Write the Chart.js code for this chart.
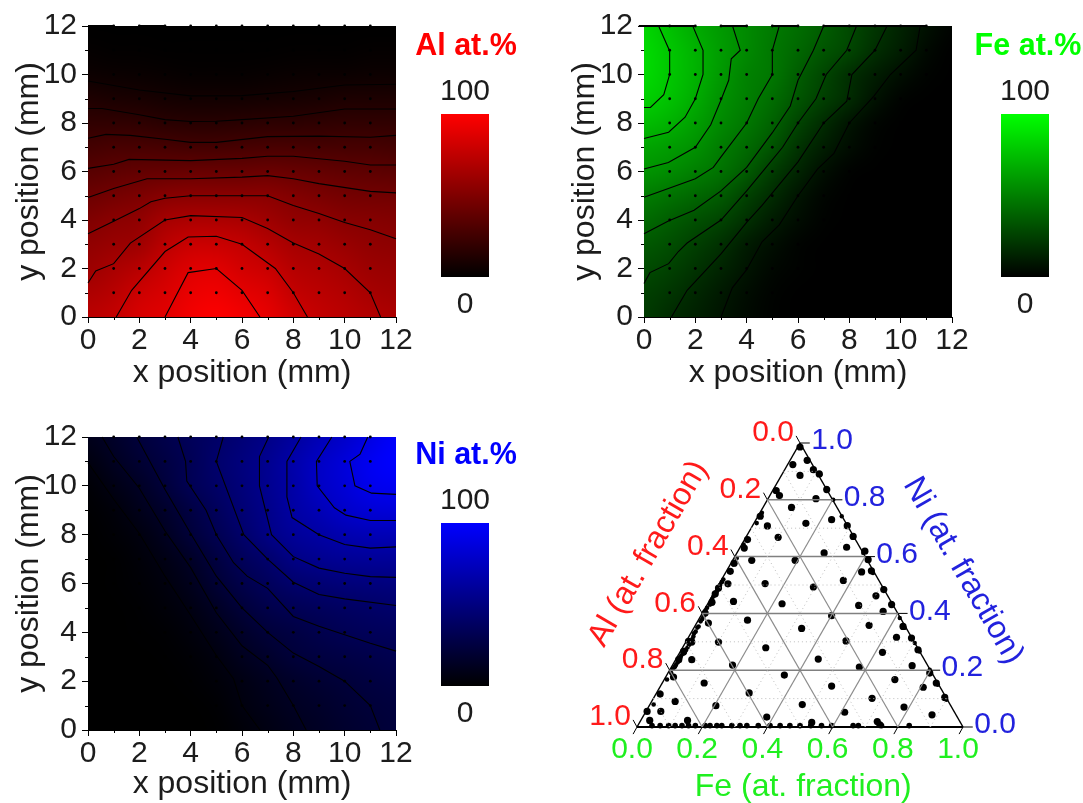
<!DOCTYPE html>
<html>
<head>
<meta charset="utf-8">
<script src="https://cdn.jsdelivr.net/npm/chart.js@4"></script>
<style>
  html, body { margin: 0; padding: 0; background: #fff; }
  #page { position: relative; width: 1083px; height: 803px; overflow: hidden; }
  canvas { position: absolute; }
</style>
</head>
<body>
<div id="page">
  <canvas id="mapAl" width="440" height="400" style="left:0;top:0"></canvas>
  <canvas id="barAl" width="125" height="330" style="left:403px;top:0"></canvas>
  <canvas id="mapFe" width="440" height="400" style="left:556px;top:0"></canvas>
  <canvas id="barFe" width="125" height="330" style="left:963px;top:0"></canvas>
  <canvas id="mapNi" width="440" height="400" style="left:0;top:405px"></canvas>
  <canvas id="barNi" width="125" height="330" style="left:403px;top:409px"></canvas>
  <canvas id="ternary" width="513" height="393" style="left:570px;top:410px"></canvas>
</div>
<script>
//---------------- DATA ----------------

const FONT_NAME = "'Liberation Sans', Arial, sans-serif";

// sample positions on the wafer (mm)
const sampleX = [1, 2, 3, 4, 5, 6, 7, 8, 9, 10, 11];
const sampleY = [1, 2, 3, 4, 5, 6, 7, 8, 9, 10, 11, 12];
const minorTicks = [1, 3, 5, 7, 9, 11];

// composition maps, one row per y = 0..12, one column per x = 0..12
const alGrid = [
  [77, 80, 87, 90, 96, 99, 96, 92, 85, 80, 77, 74, 72],
  [72, 76, 83, 87, 93, 95, 91, 88, 80, 77, 74, 70, 68],
  [66, 71, 76, 83, 89, 90, 85, 82, 75, 73, 70, 66, 65],
  [62, 65, 67, 77, 82, 82, 80, 75, 70, 68, 65, 62, 61],
  [56, 60, 62, 70, 72, 72, 71, 67, 63, 62, 59, 58, 57],
  [49, 52, 55, 59, 60, 60, 60, 60, 57, 54, 52, 51, 51],
  [41, 43, 45, 46, 47, 47, 47, 48, 47, 46, 44, 43, 42],
  [33, 35, 35, 34, 33, 33, 34, 35, 35, 34, 34, 34, 33],
  [25, 25, 24, 22, 21, 21, 22, 23, 23, 24, 25, 25, 25],
  [17, 15, 14, 12, 11, 11, 11, 12, 13, 14, 16, 16, 16],
  [8, 7, 6, 5, 4, 4, 4, 5, 6, 7, 7, 8, 8],
  [3, 2, 2, 1, 1, 1, 1, 1, 2, 2, 2, 3, 3],
  [0, 0, 0, 0, 0, 0, 0, 0, 0, 0, 0, 0, 0]
];
const feGrid = [
  [26, 20, 15, 10, 5, 1, 0, 0, 0, 0, 0, 0, 0],
  [28, 24, 18, 12, 6, 2, 0, 0, 0, 0, 0, 0, 0],
  [33, 29, 23, 17, 10, 4, 1, 0, 0, 0, 0, 0, 0],
  [38, 34, 28, 22, 13, 7, 2, 0, 0, 0, 0, 0, 0],
  [45, 40, 35, 30, 22, 13, 6, 1, 0, 0, 0, 0, 0],
  [52, 48, 44, 39, 29, 20, 10, 3, 0, 0, 0, 0, 0],
  [61, 58, 53, 48, 39, 27, 17, 7, 1, 0, 0, 0, 0],
  [67, 64, 60, 52, 45, 36, 23, 14, 6, 1, 0, 0, 0],
  [76, 72, 65, 57, 50, 42, 30, 20, 10, 3, 0, 0, 0],
  [83, 78, 70, 60, 53, 46, 37, 28, 20, 9, 2, 0, 0],
  [87, 80, 72, 63, 54, 50, 40, 31, 21, 14, 7, 2, 0],
  [87, 80, 72, 64, 57, 50, 44, 37, 31, 21, 14, 5, 0],
  [85, 77, 69, 63, 57, 51, 46, 40, 32, 24, 16, 8, 2]
];
const niGrid = [
  [0, 0, 0, 0, 0, 1, 6, 12, 17, 21, 25, 28, 31],
  [0, 0, 0, 0, 0, 3, 10, 15, 20, 23, 27, 30, 32],
  [0, 0, 0, 0, 2, 6, 12, 18, 23, 27, 30, 33, 35],
  [0, 0, 0, 1, 4, 10, 18, 24, 30, 33, 35, 37, 39],
  [0, 0, 1, 3, 8, 15, 23, 30, 34, 38, 41, 43, 44],
  [0, 0, 2, 6, 12, 21, 30, 37, 41, 44, 46, 48, 50],
  [0, 1, 4, 9, 17, 28, 37, 44, 50, 53, 55, 56, 57],
  [0, 1, 6, 13, 22, 33, 43, 50, 59, 63, 65, 66, 66],
  [0, 4, 10, 19, 30, 40, 49, 59, 66, 70, 74, 76, 76],
  [2, 7, 16, 24, 34, 44, 53, 61, 70, 76, 83, 87, 88],
  [4, 13, 21, 31, 41, 48, 55, 63, 71, 81, 87, 94, 96],
  [10, 19, 27, 34, 41, 50, 56, 63, 72, 81, 88, 96, 100],
  [16, 23, 31, 37, 43, 48, 54, 60, 68, 76, 83, 91, 99]
];

// contour lines, [x, y] in mm
const alContours = [
  [[3, 0], [3.9, 1.83], [5, 2], [6, 1.1], [6.7, 0]],
  [[1.1, 0], [1.7, 1.1], [3, 2.7], [3.9, 3.3], [5, 3.33], [6, 3], [7.3, 2], [8, 1], [8.55, 0]],
  [[0, 1.4], [0.3, 1.9], [1, 2.2], [1.65, 3.05], [3, 4], [4, 4.18], [6, 4.1], [7, 3.65], [8, 3.05], [9, 2.6], [10, 2], [11, 1], [11.4, 0]],
  [[0, 3.43], [1, 3.95], [2, 4.47], [2.45, 4.75], [3, 4.9], [4, 5], [7, 5], [8, 4.6], [9, 4.27], [10, 3.9], [11, 3.6], [12, 3.23]],
  [[0, 4.93], [1, 5.3], [2.3, 5.7], [4, 5.7], [6, 5.77], [7, 5.83], [8, 5.7], [9, 5.5], [11, 5.18], [12, 5.12]],
  [[0, 6.13], [1, 6.3], [1.6, 6.5], [4, 6.45], [6, 6.54], [7, 6.63], [8, 6.63], [10, 6.42], [11, 6.27], [12, 6.27]],
  [[0, 7.37], [0.7, 7.53], [1.65, 7.49], [3, 7.33], [4, 7.2], [5, 7.2], [7, 7.44], [9, 7.46], [11, 7.41], [12, 7.49]],
  [[0, 8.6], [0.55, 8.6], [2, 8.34], [3, 8.14], [4, 8.06], [5, 8.07], [6, 8.14], [8, 8.28], [10, 8.58], [12, 8.58]],
  [[0, 9.73], [2, 9.36], [4, 9.12], [6, 9.13], [8, 9.3], [10, 9.57], [12, 9.6]]
];
const feContours = [
  [[0, 8.64], [0.25, 8.64], [0.77, 9.17], [1, 10], [1, 10.97], [0.57, 12]],
  [[0, 7.36], [0.96, 7.62], [1.6, 8.24], [2, 9], [2.3, 10], [2.3, 11], [1.9, 12]],
  [[0, 6.1], [0.95, 6.37], [2, 7], [2.6, 7.93], [3, 8.95], [3.3, 9.76], [3.4, 10.65], [3.75, 11], [3.45, 12]],
  [[0, 4.94], [0.95, 5.3], [2, 5.7], [2.7, 6.17], [3, 6.6], [4, 8], [4.45, 9], [5, 10], [5, 11], [5.27, 12]],
  [[0, 3.43], [0.95, 3.96], [1.95, 4.4], [3, 5.2], [4, 6.17], [5, 7.6], [5.7, 8.7], [6, 9.76], [6.6, 11], [7, 12]],
  [[0, 1.38], [0.23, 1.83], [0.96, 2.2], [1.34, 2.7], [1.68, 3.05], [3, 4], [4, 5.2], [4.7, 6.1], [5.4, 7], [6, 8], [6.7, 9], [7.1, 10], [7.9, 11], [8.28, 12]],
  [[1.07, 0], [1.68, 1.1], [3, 2.6], [4, 3.9], [4.6, 4.6], [5.3, 5.5], [6, 6.4], [7, 8], [7.9, 8.9], [8.1, 10], [9, 11], [9.47, 12]],
  [[3, 0], [3.44, 1.2], [4, 1.95], [4.6, 3.1], [5.27, 3.8], [6, 5], [6.76, 6.1], [7.4, 6.75], [8, 8], [8.95, 9.1], [9.6, 10], [10.6, 11], [10.76, 12]]
];
const niContours = [
  [[10.9, 12], [10.6, 11.3], [10.2, 11], [10.4, 10], [11.05, 9.7], [12, 9.65]],
  [[9.5, 12], [8.9, 11], [8.93, 10], [9.6, 9.1], [10.05, 8.8], [11, 8.58], [12, 8.58]],
  [[8.3, 12], [7.75, 11], [7.75, 9.55], [7.95, 8.7], [9, 8], [10, 7.6], [11, 7.45], [12, 7.5]],
  [[7.04, 12], [6.68, 11.2], [6.68, 10], [7.15, 8], [8, 7.1], [9, 6.63], [10, 6.42], [11, 6.28], [12, 6.25]],
  [[5.27, 12], [5, 11], [6.07, 8], [7, 7], [8, 6.05], [9, 5.55], [10, 5.37], [12, 5.1]],
  [[3.5, 12], [3.8, 11], [3.85, 10.2], [4.6, 9], [5, 8], [5.67, 6.85], [6.2, 6.3], [7, 5.8], [8, 4.65], [9, 4.25], [10, 3.9], [11, 3.55], [12, 3.23]],
  [[1.9, 12], [3, 9.85], [4, 8.05], [5, 6.3], [6, 5], [7, 4], [8, 3.15], [9, 2.6], [10, 2], [11, 1], [11.37, 0]],
  [[0.55, 12], [1, 11.2], [2, 9.9], [3, 8.15], [4, 6.65], [5, 4.8], [6, 3.45], [7, 2.65], [7.35, 2.15], [8, 1], [8.5, 0]],
  [[0, 10.95], [1, 9.45], [2, 8.05], [3, 6.3], [4, 4.7], [5, 3.05], [5.67, 2.1], [6, 1], [6.7, 0]]
];

// contour pieces running along the top edge, x from / x to
const alTopEdge = [[0, 1], [2, 3]];
const feTopEdge = [[-0.2, 2], [3, 4], [5, 6], [7, 11]];
const niTopEdge = [];

// ternary diagram: position along the Fe axis, and Ni fraction
const ternaryTicks = [0, 0.2, 0.4, 0.6, 0.8, 1];
const ternaryTickLabels = ["0.0", "0.2", "0.4", "0.6", "0.8", "1.0"];
const ternaryMajor = [0.2, 0.4, 0.6, 0.8];
const ternaryMinor = [0.1, 0.3, 0.5, 0.7, 0.9];
const innerAlong = [
  .500, .522, .478, .541, .500, .559, .582, .427, .437, .549, .474, .597, .518, .378, .400, .645, .663, .433, .339, .329,
  .643, .574, .699, .352, .485, .709, .298, .286, .689, .633, .719, .279, .393, .541, .733, .757, .250, .240, .296, .445,
  .680, .781, .230, .755, .209, .339, .219, .597, .712, .816, .505, .796, .842, .168, .158, .250, .641, .395, .862, .753,
  .143, .128, .168, .556, .293, .682, .844, .898, .112, .452, .791, .206, .597, .878, .918, .071, .344, .944, .117, .507,
  .721, .242, .819, .031, .073, .637, .905, .039, .155, .398, .737, .536, .745
];
const innerNi = [
  .986, .939, .924, .906, .886, .891, .836, .832, .815, .804, .773, .730, .717, .742, .708, .709, .671, .668, .660, .630,
  .633, .613, .619, .587, .587, .589, .577, .548, .546, .516, .550, .504, .505, .493, .462, .484, .489, .469, .442, .434,
  .428, .431, .439, .407, .401, .376, .366, .392, .358, .354, .347, .316, .313, .299, .302, .299, .303, .279, .272, .263,
  .266, .237, .237, .239, .218, .211, .216, .190, .176, .183, .167, .155, .144, .140, .155, .116, .120, .104, .090, .079,
  .101, .075, .070, .055, .055, .052, .043, .023, .023, .035, .019, .016, .008
];
const bottomAlong = [.046, .071, .097, .117, .138, .158, .179, .209, .224, .245, .260, .291, .316, .337, .372, .408, .439, .469, .500, .533, .566, .597, .663, .679, .750, .835];
const leftAlong = [
  .383, .367, .327, .306, .296, .265, .260, .255, .250, .245, .240, .235, .230, .224, .215, .210, .204, .200, .195, .189,
  .185, .180, .175, .173, .170, .165, .160, .155, .150, .148, .145, .140, .135, .133, .130, .125, .120, .117, .115, .110, .105, .092, .071, .051
];
const leftNi = [
  .754, .718, .642, .595, .572, .519, .510, .500, .490, .478, .470, .460, .450, .431, .420, .410, .390, .380, .372, .354,
  .350, .336, .330, .319, .310, .300, .290, .280, .270, .272, .260, .257, .250, .243, .240, .228, .220, .214, .210, .205, .190, .167, .120, .079
];
const rightAlong = [.563, .582, .602, .628, .643, .694, .724, .755, .781, .806, .821, .852, .867, .898, .923, .949];
const rightNi = [.889, .842, .800, .742, .707, .613, .542, .489, .437, .384, .349, .296, .266, .202, .149, .096];

//---------------- COMPOSITION MAPS ----------------

Chart.defaults.font.family = FONT_NAME;
const TEXT_COLOR = "#1c1c1c";

function toPoints(pairs) {
  return pairs.map(p => ({ x: p[0], y: p[1] }));
}

function samplePoints() {
  const pts = [];
  sampleY.forEach(y => sampleX.forEach(x => pts.push({ x: x, y: y })));
  return pts;
}

// paints the grid behind the datasets, the browser smooths between the cells
const heatPlugin = {
  id: "heat",
  beforeDatasetsDraw(chart, args, opts) {
    const rows = opts.grid;
    const off = document.createElement("canvas");
    off.width = rows[0].length;
    off.height = rows.length;
    const offCtx = off.getContext("2d");
    const img = offCtx.createImageData(off.width, off.height);
    rows.forEach((row, r) => row.forEach((v, c) => {
      const i = ((rows.length - 1 - r) * off.width + c) * 4;
      const level = Math.pow(v / 100, opts.gamma) * 255;
      img.data[i] = opts.rgb[0] * level;
      img.data[i + 1] = opts.rgb[1] * level;
      img.data[i + 2] = opts.rgb[2] * level;
      img.data[i + 3] = 255;
    }));
    offCtx.putImageData(img, 0, 0);
    const x0 = chart.scales.x.getPixelForValue(0), x1 = chart.scales.x.getPixelForValue(12);
    const y0 = chart.scales.y.getPixelForValue(12), y1 = chart.scales.y.getPixelForValue(0);
    const ctx = chart.ctx;
    ctx.save();
    ctx.imageSmoothingEnabled = true;
    ctx.imageSmoothingQuality = "high";
    ctx.drawImage(off, 0.5, 0.5, off.width - 1, off.height - 1, x0, y0, x1 - x0, y1 - y0);
    ctx.restore();
  },
  // odd positions only get a short tick
  afterDraw(chart) {
    const ctx = chart.ctx, xs = chart.scales.x, ys = chart.scales.y;
    ctx.save();
    ctx.strokeStyle = "#000";
    ctx.lineWidth = 1;
    ctx.beginPath();
    minorTicks.forEach(t => {
      const px = Math.round(xs.getPixelForValue(t)) + 0.5;
      const py = Math.round(ys.getPixelForValue(t)) + 0.5;
      ctx.moveTo(px, ys.bottom);
      ctx.lineTo(px, ys.bottom + 3);
      ctx.moveTo(xs.left, py);
      ctx.lineTo(xs.left - 3, py);
    });
    ctx.stroke();
    ctx.restore();
  }
};

function makeMap(id, grid, rgb, gamma, contours, topEdge, paddingTop, paddingBottom, xAxisHeight) {
  const datasets = contours.map(line => ({
    data: toPoints(line), showLine: true, pointRadius: 0,
    borderColor: "#000", borderWidth: 1.1, tension: 0, clip: false
  }));
  const edge = [];
  topEdge.forEach(piece => {
    edge.push({ x: piece[0], y: 12 }, { x: piece[1], y: 12 }, { x: piece[1], y: null });
  });
  datasets.push({ data: edge, showLine: true, pointRadius: 0, borderColor: "#000", borderWidth: 2, clip: false });
  datasets.push({ data: samplePoints(), showLine: false, pointRadius: 1.4, pointBorderWidth: 0, backgroundColor: "#000", clip: false });

  const xLabel = { color: TEXT_COLOR, font: { size: 30 }, maxRotation: 0, autoSkip: false, stepSize: 2, padding: 0 };
  const yLabel = { color: TEXT_COLOR, font: { size: 30 }, maxRotation: 0, autoSkip: false, stepSize: 2, padding: 5 };
  new Chart(document.getElementById(id), {
    type: "scatter",
    data: { datasets: datasets },
    options: {
      responsive: false,
      animation: false,
      layout: { padding: { top: paddingTop, right: 44, bottom: paddingBottom, left: 0 } },
      plugins: { legend: { display: false }, tooltip: { enabled: false }, heat: { grid: grid, rgb: rgb, gamma: gamma } },
      scales: {
        x: {
          type: "linear", min: 0, max: 12,
          ticks: xLabel,
          grid: { drawOnChartArea: false, tickLength: 6, tickColor: "#000" },
          border: { color: "#000" },
          title: { display: true, text: "x position (mm)", color: TEXT_COLOR, font: { size: 32 }, padding: { top: 0, bottom: 0 } },
          afterFit: s => { s.height = xAxisHeight; }
        },
        y: {
          type: "linear", min: 0, max: 12,
          ticks: yLabel,
          grid: { drawOnChartArea: false, tickLength: 6, tickColor: "#000" },
          border: { color: "#000" },
          title: { display: true, text: "y position (mm)", color: TEXT_COLOR, font: { size: 32 }, padding: { top: 10, bottom: 0 } },
          afterFit: s => { s.width = 88; }
        }
      }
    },
    plugins: [heatPlugin]
  });
}

//---------------- COLOUR BARS ----------------

const barMin = "0";
const barMax = "100";

const barTextPlugin = {
  id: "barText",
  afterDraw(chart, args, opts) {
    const ctx = chart.ctx, ys = chart.scales.y;
    const cx = (chart.chartArea.left + chart.chartArea.right) / 2;
    ctx.save();
    ctx.textAlign = "center";
    ctx.textBaseline = "middle";
    ctx.fillStyle = opts.color;
    ctx.font = "bold 30.5px " + FONT_NAME;
    ctx.fillText(opts.title, cx + opts.titleShift, ys.getPixelForValue(100) - 67);
    ctx.fillStyle = TEXT_COLOR;
    ctx.font = "30px " + FONT_NAME;
    ctx.fillText(barMax, cx, ys.getPixelForValue(100) - 22);
    ctx.fillText(barMin, cx, ys.getPixelForValue(0) + 28);
    ctx.restore();
  }
};

function makeBar(id, title, color, titleShift, paddingTop) {
  new Chart(document.getElementById(id), {
    type: "bar",
    data: {
      labels: [title],
      datasets: [{
        data: [[0, 100]],
        barPercentage: 1,
        categoryPercentage: 1,
        backgroundColor: ctx => {
          const area = ctx.chart.chartArea;
          if (!area) return color;
          const g = ctx.chart.ctx.createLinearGradient(0, area.bottom, 0, area.top);
          g.addColorStop(0, "#000");
          g.addColorStop(1, color);
          return g;
        }
      }]
    },
    options: {
      responsive: false,
      animation: false,
      layout: { padding: { top: paddingTop, right: 39, bottom: 330 - paddingTop - 163, left: 38 } },
      plugins: { legend: { display: false }, tooltip: { enabled: false }, barText: { title: title, color: color, titleShift: titleShift } },
      scales: {
        x: { display: false },
        y: { display: false, min: 0, max: 100 }
      }
    },
    plugins: [barTextPlugin]
  });
}

//---------------- TERNARY DIAGRAM ----------------

const TERNARY_RED = "#ff1a1a";
const TERNARY_BLUE = "#2222dd";
const TERNARY_GREEN = "#1fef1f";

function segment(x0, y0, x1, y1, color, width, dash) {
  return {
    data: [{ x: x0, y: y0 }, { x: x1, y: y1 }], showLine: true, pointRadius: 0,
    borderColor: color, borderWidth: width, borderDash: dash || [], clip: false
  };
}

function gridLines(values, color, width, dash, horizontalColor, horizontalWidth) {
  const lines = [];
  values.forEach(t => {
    lines.push(segment(t / 2, t, 1 - t / 2, t, horizontalColor, horizontalWidth, dash));
    lines.push(segment(t, 0, t + (1 - t) / 2, 1 - t, color, width, dash));
    lines.push(segment(1 - t, 0, (1 - t) / 2, 1 - t, color, width, dash));
  });
  return lines;
}

function tickLines() {
  const lines = [];
  ternaryTicks.forEach(t => {
    // Ni ticks point right, Fe ticks down-left, Al ticks up-left
    lines.push(segment(1 - t / 2, t, 1 - t / 2 + 0.03, t, "#000", 1));
    lines.push(segment(t, 0, t - 0.012, -0.025, "#000", 1));
    lines.push(segment(t / 2, t, t / 2 - 0.012, t + 0.025, "#000", 1));
  });
  return lines;
}

function dotSet(along, ni, radius) {
  return {
    data: along.map((v, i) => ({ x: v, y: ni[i] })),
    showLine: false, pointRadius: radius, pointBorderWidth: 0, backgroundColor: "#000", clip: false
  };
}

const ternaryTextPlugin = {
  id: "ternaryText",
  afterDraw(chart) {
    const ctx = chart.ctx, xs = chart.scales.x, ys = chart.scales.y;
    ctx.save();
    ctx.textAlign = "center";
    ctx.textBaseline = "middle";
    ctx.font = "30px " + FONT_NAME;
    ternaryTicks.forEach((t, i) => {
      const label = ternaryTickLabels[i];
      ctx.fillStyle = TERNARY_RED;
      ctx.fillText(ternaryTickLabels[ternaryTicks.length - 1 - i], xs.getPixelForValue(t / 2) - 27, ys.getPixelForValue(t) - 10);
      ctx.fillStyle = TERNARY_BLUE;
      ctx.fillText(label, xs.getPixelForValue(1 - t / 2) + 32, ys.getPixelForValue(t) - 2);
      ctx.fillStyle = TERNARY_GREEN;
      ctx.fillText(label, xs.getPixelForValue(t) - 5, ys.getPixelForValue(0) + 23);
    });
    ctx.font = "32px " + FONT_NAME;
    ctx.fillStyle = TERNARY_GREEN;
    ctx.fillText("Fe (at. fraction)", xs.getPixelForValue(0.51), ys.getPixelForValue(0) + 60);

    ctx.save();
    ctx.translate(xs.getPixelForValue(0.035), ys.getPixelForValue(0.61));
    ctx.rotate(-Math.PI / 3);
    ctx.fillStyle = TERNARY_RED;
    ctx.fillText("Al (at. fraction)", 0, 0);
    ctx.restore();

    ctx.save();
    ctx.translate(xs.getPixelForValue(1.0), ys.getPixelForValue(0.55));
    ctx.rotate(Math.PI / 3);
    ctx.fillStyle = TERNARY_BLUE;
    ctx.fillText("Ni (at. fraction)", 0, 0);
    ctx.restore();
    ctx.restore();
  }
};

function makeTernary() {
  const datasets = []
    .concat(gridLines(ternaryMinor, "#bdbdbd", 1, [1, 3], "#bdbdbd", 1))
    .concat(gridLines(ternaryMajor, "#8c8c8c", 1.2, [], "#808080", 1.5))
    .concat(tickLines());
  datasets.push(segment(0, 0, 0.5, 1, "#000", 1.5));
  datasets.push(segment(0.5, 1, 1, 0, "#000", 1.5));
  datasets.push(segment(0, 0, 1, 0, "#000", 2));
  datasets.push(dotSet(innerAlong, innerNi, 3.6));
  datasets.push(dotSet(leftAlong, leftNi, 2.3));
  datasets.push(dotSet(rightAlong, rightNi, 2.2));
  datasets.push(dotSet(bottomAlong, bottomAlong.map(() => 0.005), 2.8));

  new Chart(document.getElementById("ternary"), {
    type: "scatter",
    data: { datasets: datasets },
    options: {
      responsive: false,
      animation: false,
      layout: { padding: { top: 33, right: 120, bottom: 76, left: 67 } },
      plugins: { legend: { display: false }, tooltip: { enabled: false } },
      scales: {
        x: { type: "linear", display: false, min: 0, max: 1 },
        y: { type: "linear", display: false, min: 0, max: 1 }
      }
    },
    plugins: [ternaryTextPlugin]
  });
}

//---------------- BUILD ----------------

makeMap("mapAl", alGrid, [1, 0, 0], 1.2, alContours, alTopEdge, 26, 8, 75);
makeMap("mapFe", feGrid, [0, 1, 0], 1.1, feContours, feTopEdge, 26, 8, 75);
makeMap("mapNi", niGrid, [0, 0, 1], 1.25, niContours, niTopEdge, 32, 2, 73);

makeBar("barAl", "Al at.%", "#ff0000", 1, 114);
makeBar("barFe", "Fe at.%", "#00ff00", 3, 114);
makeBar("barNi", "Ni at.%", "#0000ff", 1, 114);

makeTernary();
</script>
</body>
</html>
